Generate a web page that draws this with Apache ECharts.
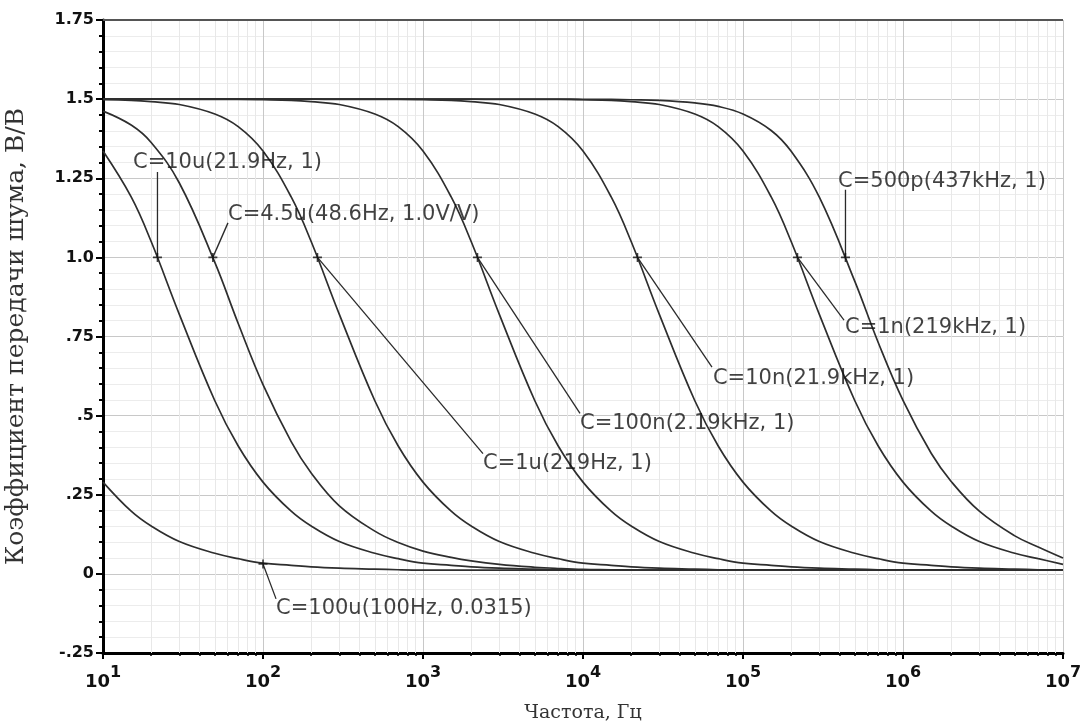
<!DOCTYPE html>
<html>
<head>
<meta charset="utf-8">
<script src="https://cdn.jsdelivr.net/npm/echarts@6/dist/echarts.min.js"></script>
<style>
  html, body { margin: 0; padding: 0; background: #fff; }
  #noise { width: 1088px; height: 724px; }
</style>
</head>
<body>
<div id="noise"></div>
<script>
// частоты, Гц (общая сетка для всех кривых)
var freqs = [
  10, 15, 20, 30, 50, 70,
  100, 150, 200, 300, 500, 700,
  1e3, 1.5e3, 2e3, 3e3, 5e3, 7e3,
  1e4, 1.5e4, 2e4, 3e4, 5e4, 7e4,
  1e5, 1.5e5, 2e5, 3e5, 5e5, 7e5,
  1e6, 1.5e6, 2e6, 3e6, 5e6, 7e6,
  1e7
];

// коэффициент передачи, В/В
var c100u = [
  0.29, 0.198, 0.151, 0.102, 0.065, 0.048,
  0.034, 0.027, 0.022, 0.018, 0.015, 0.013,
  0.012, 0.012, 0.012, 0.012, 0.012, 0.012,
  0.012, 0.012, 0.012, 0.012, 0.012, 0.012,
  0.012, 0.012, 0.012, 0.012, 0.012, 0.012,
  0.012, 0.012, 0.012, 0.012, 0.012, 0.012,
  0.012
];
var c10u = [
  1.336, 1.191, 1.05, 0.82, 0.547, 0.404,
  0.29, 0.198, 0.151, 0.102, 0.065, 0.048,
  0.034, 0.027, 0.022, 0.018, 0.015, 0.013,
  0.012, 0.012, 0.012, 0.012, 0.012, 0.012,
  0.012, 0.012, 0.012, 0.012, 0.012, 0.012,
  0.012, 0.012, 0.012, 0.012, 0.012, 0.012,
  0.012
];
var c4u5 = [
  1.462, 1.418, 1.363, 1.235, 0.984, 0.791,
  0.598, 0.418, 0.319, 0.215, 0.135, 0.099,
  0.072, 0.052, 0.041, 0.03, 0.021, 0.017,
  0.014, 0.013, 0.012, 0.012, 0.012, 0.012,
  0.012, 0.012, 0.012, 0.012, 0.012, 0.012,
  0.012, 0.012, 0.012, 0.012, 0.012, 0.012,
  0.012
];
var c1u = [
  1.498, 1.496, 1.492, 1.483, 1.453, 1.413,
  1.336, 1.191, 1.05, 0.82, 0.547, 0.404,
  0.29, 0.198, 0.151, 0.102, 0.065, 0.048,
  0.034, 0.027, 0.022, 0.018, 0.015, 0.013,
  0.012, 0.012, 0.012, 0.012, 0.012, 0.012,
  0.012, 0.012, 0.012, 0.012, 0.012, 0.012,
  0.012
];
var c100n = [
  1.5, 1.5, 1.5, 1.499, 1.499, 1.499,
  1.498, 1.496, 1.492, 1.483, 1.453, 1.413,
  1.336, 1.191, 1.05, 0.82, 0.547, 0.404,
  0.29, 0.198, 0.151, 0.102, 0.065, 0.048,
  0.034, 0.027, 0.022, 0.018, 0.015, 0.013,
  0.012, 0.012, 0.012, 0.012, 0.012, 0.012,
  0.012
];
var c10n = [
  1.5, 1.5, 1.5, 1.5, 1.5, 1.5,
  1.5, 1.5, 1.5, 1.499, 1.499, 1.499,
  1.498, 1.496, 1.492, 1.483, 1.453, 1.413,
  1.336, 1.191, 1.05, 0.82, 0.547, 0.404,
  0.29, 0.198, 0.151, 0.102, 0.065, 0.048,
  0.034, 0.027, 0.022, 0.018, 0.015, 0.013,
  0.012
];
var c1n = [
  1.5, 1.5, 1.5, 1.5, 1.5, 1.5,
  1.5, 1.5, 1.5, 1.5, 1.5, 1.5,
  1.5, 1.5, 1.5, 1.499, 1.499, 1.499,
  1.498, 1.496, 1.492, 1.483, 1.453, 1.413,
  1.336, 1.191, 1.05, 0.82, 0.547, 0.404,
  0.29, 0.198, 0.151, 0.102, 0.065, 0.048,
  0.03
];
var c500p = [
  1.5, 1.5, 1.5, 1.5, 1.5, 1.5,
  1.5, 1.5, 1.5, 1.5, 1.5, 1.5,
  1.5, 1.5, 1.5, 1.5, 1.5, 1.5,
  1.4995, 1.499, 1.498, 1.496, 1.488, 1.477,
  1.453, 1.401, 1.335, 1.19, 0.924, 0.731,
  0.548, 0.381, 0.292, 0.198, 0.12, 0.085,
  0.05
];

var curves = [c100u, c10u, c4u5, c1u, c100n, c10n, c1n, c500p];

// подписи точек: текст, точка на кривой, конец выноски, начало текста
var noteText = [
  'C=10u(21.9Hz, 1)', 'C=4.5u(48.6Hz, 1.0V/V)', 'C=1u(219Hz, 1)',
  'C=100n(2.19kHz, 1)', 'C=10n(21.9kHz, 1)', 'C=1n(219kHz, 1)',
  'C=500p(437kHz, 1)', 'C=100u(100Hz, 0.0315)'
];
var notePoint = [[21.9, 1], [48.6, 1], [219, 1], [2190, 1], [21900, 1], [219000, 1], [437000, 1], [100, 0.0315]];
var noteEnd = [[21.9, 1.27], [60.4, 1.109], [2371, 0.38], [9578, 0.507], [64000, 0.653], [427800, 0.802], [437000, 1.214], [120.6, -0.079]];
var noteTextAt = [[15.4, 1.299], [60.4, 1.134], [2371, 0.349], [9578, 0.475], [64900, 0.618], [434000, 0.779], [392600, 1.239], [120.6, -0.108]];

// подписи оси Y
var yTickLabels = { '-0.25': '-.25', '0': '0', '0.25': '.25', '0.5': '.5', '0.75': '.75', '1': '1.0', '1.25': '1.25', '1.5': '1.5', '1.75': '1.75' };

var minorFreqs = [];
for (var e = 1; e < 7; e++) {
  for (var k = 2; k <= 9; k++) minorFreqs.push(k * Math.pow(10, e));
}

var chart = echarts.init(document.getElementById('noise'));

var series = [];
// сетка мелких делений по X и верхняя рамка
series.push({
  type: 'line',
  data: [],
  silent: true,
  z: 1,
  markLine: {
    z: 1,
    silent: true,
    symbol: ['none', 'none'],
    label: { show: false },
    animation: false,
    lineStyle: { color: '#e8e8e8', width: 1, type: 'solid' },
    data: minorFreqs.map(function (f) { return { xAxis: f }; }).concat([
      { yAxis: 1.75, lineStyle: { color: '#555', width: 2, type: 'solid' } }
    ])
  }
});

curves.forEach(function (c) {
  series.push({
    type: 'line',
    data: freqs.map(function (f, i) { return [f, c[i]]; }),
    showSymbol: false,
    smooth: 0.4,
    lineStyle: { color: '#2e2e2e', width: 1.7 },
    z: 3,
    silent: true
  });
});

noteText.forEach(function (t, i) {
  series.push({
    type: 'line',
    data: [notePoint[i], noteEnd[i]],
    showSymbol: false,
    lineStyle: { color: '#2a2a2a', width: 1.3 },
    z: 4,
    silent: true
  });
});

series.push({
  type: 'scatter',
  data: notePoint,
  symbol: 'path://M0,5L10,5M5,0L5,10',
  symbolSize: 9,
  itemStyle: { color: 'none', borderColor: '#111', borderWidth: 1.6 },
  z: 5,
  silent: true
});

series.push({
  type: 'scatter',
  data: noteText.map(function (t, i) { return { name: t, value: noteTextAt[i] }; }),
  symbolSize: 0,
  z: 6,
  silent: true,
  label: {
    show: true,
    position: 'right',
    distance: 0,
    formatter: function (p) { return p.name; },
    fontFamily: 'DejaVu Sans',
    fontSize: 21,
    color: '#111'
  }
});

var option = {
  backgroundColor: '#fff',
  animation: false,
  grid: { left: 103, right: 25, top: 20, bottom: 71, outerBoundsMode: 'none', containLabel: false },
  xAxis: [{
    type: 'log',
    logBase: 10,
    min: 10,
    max: 1e7,
    name: 'Частота, Гц',
    nameLocation: 'middle',
    nameGap: 51,
    nameTextStyle: { fontFamily: 'DejaVu Serif', fontSize: 19, color: '#333' },
    axisLine: { show: true, onZero: false, lineStyle: { color: '#000', width: 3 } },
    axisTick: { show: true, length: 6, lineStyle: { color: '#000', width: 2 } },
    axisLabel: {
      margin: 12,
      formatter: function (v) {
        return '{b|10}{s|' + Math.round(Math.log10(v)) + '}';
      },
      rich: {
        b: { fontFamily: 'DejaVu Sans', fontWeight: 'bold', fontSize: 18, color: '#111', verticalAlign: 'bottom', lineHeight: 26 },
        s: { fontFamily: 'DejaVu Sans', fontWeight: 'bold', fontSize: 16, color: '#111', verticalAlign: 'top', lineHeight: 26 }
      }
    },
    splitLine: { show: true, lineStyle: { color: '#c8c8c8', width: 1 } }
  }, {
    type: 'log',
    logBase: 10,
    min: 10,
    max: 1e7,
    position: 'bottom',
    axisLine: { show: false, onZero: false },
    axisTick: { show: true, customValues: minorFreqs, length: 3, lineStyle: { color: '#000', width: 1.5 } },
    axisLabel: { show: false },
    splitLine: { show: false }
  }],
  yAxis: {
    type: 'value',
    min: -0.25,
    max: 1.75,
    interval: 0.25,
    name: 'Коэффициент передачи шума, В/В',
    nameLocation: 'middle',
    nameGap: 74,
    nameTextStyle: { fontFamily: 'DejaVu Serif', fontSize: 25, color: '#333' },
    axisLine: { show: true, onZero: false, lineStyle: { color: '#000', width: 3 } },
    axisTick: { show: true, length: 7, lineStyle: { color: '#000', width: 2 } },
    minorTick: { show: true, splitNumber: 5, length: 4, lineStyle: { color: '#000', width: 2 } },
    axisLabel: {
      margin: 9,
      fontFamily: 'DejaVu Sans',
      fontWeight: 'bold',
      fontSize: 16,
      color: '#111',
      formatter: function (v) { return yTickLabels[String(v)]; }
    },
    splitLine: { show: true, lineStyle: { color: '#c8c8c8', width: 1 } },
    minorSplitLine: { show: true, lineStyle: { color: '#ececec', width: 1 } }
  },
  series: series
};

chart.setOption(option);
</script>
</body>
</html>
